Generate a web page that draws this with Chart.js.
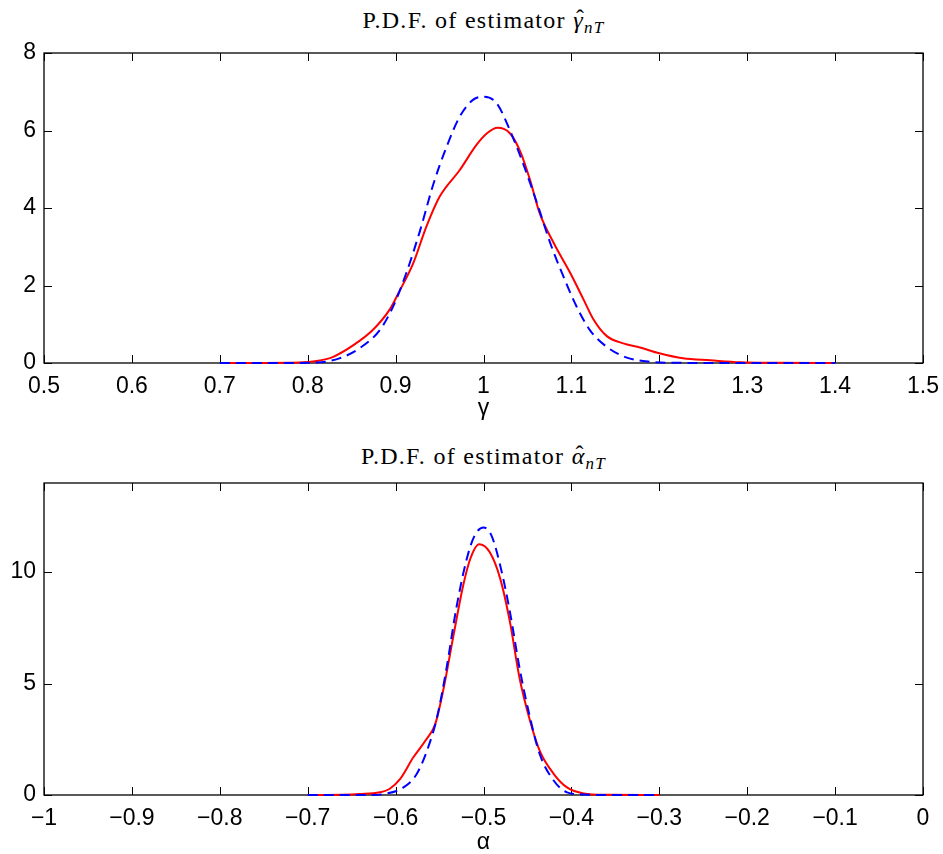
<!DOCTYPE html>
<html>
<head>
<meta charset="utf-8">
<script src="https://cdn.jsdelivr.net/npm/chart.js@4.4.1/dist/chart.umd.min.js"></script>
<style>
    body { margin: 0; background: #fff; }
    #wrap { position: relative; width: 943px; height: 854px; overflow: hidden; }
    canvas { position: absolute; left: 0; }
    .title {
        position: absolute; left: 44px; width: 879px; text-align: center; white-space: nowrap;
        font-family: "Liberation Serif", "DejaVu Serif", serif; font-size: 24px; letter-spacing: 1.3px;
        color: #000; line-height: 28px;
    }
    .hat { position: relative; display: inline-block; font-style: italic; }
    .hat .acc { position: absolute; left: 0.12em; right: 0; top: -0.08em; text-align: center; font-style: normal; }
    .title sub { font-size: 17px; font-style: italic; vertical-align: -5px; line-height: 0; }
</style>
</head>
<body>
<div id="wrap">
    <div class="title" style="top: 6px;">P.D.F. of estimator <span class="hat">γ<span class="acc">ˆ</span></span><sub>nT</sub></div>
    <canvas id="gammaChart" width="943" height="425" style="top: 0;"></canvas>
    <div class="title" style="top: 442px;">P.D.F. of estimator <span class="hat">α<span class="acc">ˆ</span></span><sub>nT</sub></div>
    <canvas id="alphaChart" width="943" height="424" style="top: 430px;"></canvas>
</div>
<script>
// --- top panel: gamma ---
const gammaTicks = [0.5, 0.6, 0.7, 0.8, 0.9, 1.0, 1.1, 1.2, 1.3, 1.4, 1.5];
const gammaTickLabels = ['0.5', '0.6', '0.7', '0.8', '0.9', '1', '1.1', '1.2', '1.3', '1.4', '1.5'];
const gammaYTicks = [0, 2, 4, 6, 8];

// solid red curve
const gammaRedX = [0.70, 0.75, 0.79, 0.81, 0.829, 0.852, 0.874, 0.893, 0.905, 0.920, 0.935, 0.950, 0.973, 0.992, 1.004, 1.016, 1.030, 1.042, 1.053, 1.064, 1.080, 1.099, 1.114, 1.125, 1.140, 1.160, 1.178, 1.200, 1.227, 1.258, 1.292, 1.33, 1.40];
const gammaRedY = [0, 0, 0.01, 0.05, 0.16, 0.46, 0.85, 1.37, 1.88, 2.57, 3.52, 4.29, 4.98, 5.63, 5.93, 6.07, 5.93, 5.45, 4.72, 3.86, 3.09, 2.31, 1.63, 1.13, 0.70, 0.50, 0.40, 0.25, 0.12, 0.07, 0.02, 0.005, 0];

// dashed blue curve
const gammaBlueX = [0.70, 0.78, 0.81, 0.836, 0.859, 0.882, 0.897, 0.912, 0.928, 0.943, 0.958, 0.973, 0.988, 1.000, 1.015, 1.030, 1.045, 1.061, 1.076, 1.091, 1.106, 1.121, 1.140, 1.163, 1.190, 1.22, 1.30, 1.40];
const gammaBlueY = [0, 0, 0.01, 0.12, 0.38, 0.85, 1.45, 2.31, 3.43, 4.62, 5.58, 6.36, 6.79, 6.87, 6.70, 6.01, 5.15, 4.12, 3.09, 2.23, 1.45, 0.85, 0.42, 0.14, 0.03, 0.005, 0, 0];

// --- bottom panel: alpha ---
const alphaTicks = [-1, -0.9, -0.8, -0.7, -0.6, -0.5, -0.4, -0.3, -0.2, -0.1, 0];
const alphaTickLabels = ['\u22121', '\u22120.9', '\u22120.8', '\u22120.7', '\u22120.6', '\u22120.5', '\u22120.4', '\u22120.3', '\u22120.2', '\u22120.1', '0'];
const alphaYTicks = [0, 5, 10];

const alphaRedX = [-0.70, -0.66, -0.641, -0.618, -0.607, -0.595, -0.580, -0.565, -0.555, -0.546, -0.534, -0.523, -0.515, -0.505, -0.493, -0.481, -0.470, -0.459, -0.447, -0.436, -0.420, -0.405, -0.386, -0.36, -0.30];
const alphaRedY = [0, 0.01, 0.04, 0.12, 0.27, 0.71, 1.68, 2.5, 3.17, 4.66, 7.19, 9.42, 10.6, 11.25, 10.9, 9.71, 7.78, 5.25, 3.32, 1.98, 0.94, 0.34, 0.07, 0.01, 0];

const alphaBlueX = [-0.70, -0.63, -0.614, -0.591, -0.576, -0.563, -0.553, -0.542, -0.531, -0.519, -0.510, -0.500, -0.491, -0.481, -0.470, -0.459, -0.447, -0.436, -0.420, -0.405, -0.385, -0.36, -0.30];
const alphaBlueY = [0, 0, 0.04, 0.34, 0.94, 2.13, 3.46, 5.7, 8.37, 10.6, 11.65, 12.0, 11.65, 10.3, 8.23, 5.7, 3.46, 1.83, 0.64, 0.12, 0.02, 0, 0];

const tickFont = { family: '"Liberation Sans", Arial, sans-serif', size: 23 };

function toPoints(xs, ys) {
    return xs.map((x, i) => ({ x: x, y: ys[i] }));
}

// box round the plot area with inward tick marks on all four sides
const boxTicks = {
    id: 'boxTicks',
    beforeDatasetsDraw(chart) {
        const { ctx, chartArea: a, scales: { x, y } } = chart;
        const len = 8;
        ctx.save();
        ctx.strokeStyle = '#000';
        ctx.lineWidth = 1.3;
        ctx.strokeRect(a.left, a.top, a.right - a.left, a.bottom - a.top);
        ctx.beginPath();
        x.ticks.forEach(t => {
            const px = Math.round(x.getPixelForValue(t.value)) + 0.5;
            ctx.moveTo(px, a.bottom); ctx.lineTo(px, a.bottom - len);
            ctx.moveTo(px, a.top); ctx.lineTo(px, a.top + len);
        });
        y.ticks.forEach(t => {
            const py = Math.round(y.getPixelForValue(t.value)) + 0.5;
            ctx.moveTo(a.left, py); ctx.lineTo(a.left + len, py);
            ctx.moveTo(a.right, py); ctx.lineTo(a.right - len, py);
        });
        ctx.lineWidth = 1;
        ctx.stroke();
        ctx.restore();
    }
};

function makeChart(id, cfg) {
    const ctx = document.getElementById(id).getContext('2d');
    return new Chart(ctx, {
        type: 'line',
        data: {
            datasets: [
                {
                    data: toPoints(cfg.blueX, cfg.blueY),
                    borderColor: '#0000ff',
                    borderWidth: 2,
                    borderDash: [10, 6],
                    pointRadius: 0,
                    cubicInterpolationMode: 'monotone',
                    clip: false,
                    order: 0
                },
                {
                    data: toPoints(cfg.redX, cfg.redY),
                    borderColor: '#ff0000',
                    borderWidth: 2,
                    pointRadius: 0,
                    cubicInterpolationMode: 'monotone',
                    clip: false,
                    order: 1
                }
            ]
        },
        options: {
            responsive: false,
            animation: false,
            devicePixelRatio: 1,
            layout: { padding: { top: 53, right: 20, left: 0, bottom: 0 } },
            plugins: { legend: { display: false }, tooltip: { enabled: false } },
            scales: {
                x: {
                    type: 'linear',
                    min: cfg.xTicks[0],
                    max: cfg.xTicks[cfg.xTicks.length - 1],
                    grid: { display: false, drawTicks: false },
                    border: { display: false },
                    afterBuildTicks: s => { s.ticks = cfg.xTicks.map(v => ({ value: v })); },
                    afterFit: s => { s.height = cfg.xAxisHeight; s.paddingLeft = 0; s.paddingRight = 0; },
                    ticks: {
                        font: tickFont, color: '#000', padding: 10, maxRotation: 0,
                        callback: (v, i) => cfg.xLabels[i]
                    },
                    title: {
                        display: true, text: cfg.xTitle, color: '#000',
                        font: { family: tickFont.family, size: 23, lineHeight: 1 },
                        padding: { top: 0, bottom: cfg.titlePad }
                    }
                },
                y: {
                    min: cfg.yTicks[0],
                    max: cfg.yMax,
                    grid: { display: false, drawTicks: false },
                    border: { display: false },
                    afterBuildTicks: s => { s.ticks = cfg.yTicks.map(v => ({ value: v })); },
                    afterFit: s => { s.width = 44; s.paddingTop = 0; s.paddingBottom = 0; },
                    ticks: { font: tickFont, color: '#000', padding: 8, callback: v => String(v) }
                }
            }
        },
        plugins: [boxTicks]
    });
}

makeChart('gammaChart', {
    blueX: gammaBlueX, blueY: gammaBlueY, redX: gammaRedX, redY: gammaRedY,
    xTicks: gammaTicks, xLabels: gammaTickLabels, yTicks: gammaYTicks, yMax: 8,
    xTitle: 'γ', xAxisHeight: 62, titlePad: 5
});

makeChart('alphaChart', {
    blueX: alphaBlueX, blueY: alphaBlueY, redX: alphaRedX, redY: alphaRedY,
    xTicks: alphaTicks, xLabels: alphaTickLabels, yTicks: alphaYTicks, yMax: 14,
    xTitle: 'α', xAxisHeight: 59, titlePad: 0
});
</script>
</body>
</html>
